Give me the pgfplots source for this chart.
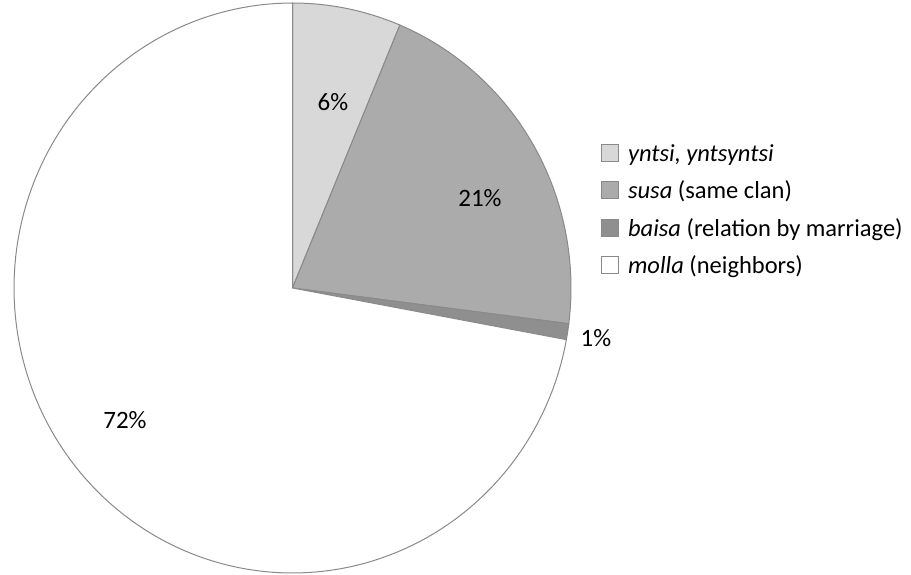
\documentclass[border=0pt]{standalone}
\usepackage{pgfplots}
\pgfplotsset{compat=1.18}
\usepackage{fontspec}
\setmainfont{Carlito}
\definecolor{sliceA}{HTML}{D8D8D8}
\definecolor{sliceB}{HTML}{ABABAB}
\definecolor{sliceC}{HTML}{8F8F8F}
\definecolor{sliceD}{HTML}{FFFFFF}
\definecolor{edge}{HTML}{8A8A8A}
% shares in percent
\def\shareA{6.3}
\def\shareB{20.7}
\def\shareC{0.9}
\def\shareD{72.1}
\pgfmathsetmacro\angA{90}
\pgfmathsetmacro\angB{90-3.6*\shareA}
\pgfmathsetmacro\angC{\angB-3.6*\shareB}
\pgfmathsetmacro\angD{\angC-3.6*\shareC}
\pgfmathsetmacro\angE{\angD-3.6*\shareD}
\def\cx{292.5}\def\cy{286}\def\rx{278.5}\def\ry{285}
\begin{document}
\begin{tikzpicture}
\begin{axis}[
  scale only axis, width=911pt, height=574pt,
  xmin=0, xmax=911, ymin=0, ymax=574,
  axis lines=none, clip=false,
  legend style={draw=none, fill=none, at={(axis cs:601,364)}, anchor=west,
    font=\fontsize{24.5}{29}\selectfont, row sep=14pt, inner sep=0pt,
    cells={anchor=west}},
  legend image code/.code={\draw[#1, draw=edge, line width=0.8pt] (0pt,-8pt) rectangle (17pt,9pt); \path (24pt,0pt);},
]
\path (rel axis cs:0,0) rectangle (rel axis cs:1,1);
\addplot[fill=sliceA, draw=edge, line width=1pt, domain=\angB:\angA, samples=40, variable=\t]
  ({\cx+\rx*cos(\t)},{\cy+\ry*sin(\t)}) -- (axis cs:\cx,\cy) -- cycle;
\addlegendentry{\emph{yntsi, yntsyntsi}}
\addplot[fill=sliceB, draw=edge, line width=1pt, domain=\angC:\angB, samples=60, variable=\t]
  ({\cx+\rx*cos(\t)},{\cy+\ry*sin(\t)}) -- (axis cs:\cx,\cy) -- cycle;
\addlegendentry{\emph{susa} (same clan)}
\addplot[fill=sliceC, draw=edge, line width=1pt, domain=\angD:\angC, samples=10, variable=\t]
  ({\cx+\rx*cos(\t)},{\cy+\ry*sin(\t)}) -- (axis cs:\cx,\cy) -- cycle;
\addlegendentry{\emph{baisa} (relation by marriage)}
\addplot[fill=sliceD, draw=edge, line width=1pt, domain=\angE:\angD, samples=150, variable=\t]
  ({\cx+\rx*cos(\t)},{\cy+\ry*sin(\t)}) -- (axis cs:\cx,\cy) -- cycle;
\addlegendentry{\emph{molla} (neighbors)}
\node[font=\fontsize{25}{30}\selectfont] at (axis cs:333,472) {6\%};
\node[font=\fontsize{25}{30}\selectfont] at (axis cs:480,376) {21\%};
\node[font=\fontsize{25}{30}\selectfont] at (axis cs:596,236) {1\%};
\node[font=\fontsize{25}{30}\selectfont] at (axis cs:125,154) {72\%};
\end{axis}
\end{tikzpicture}
\end{document}
